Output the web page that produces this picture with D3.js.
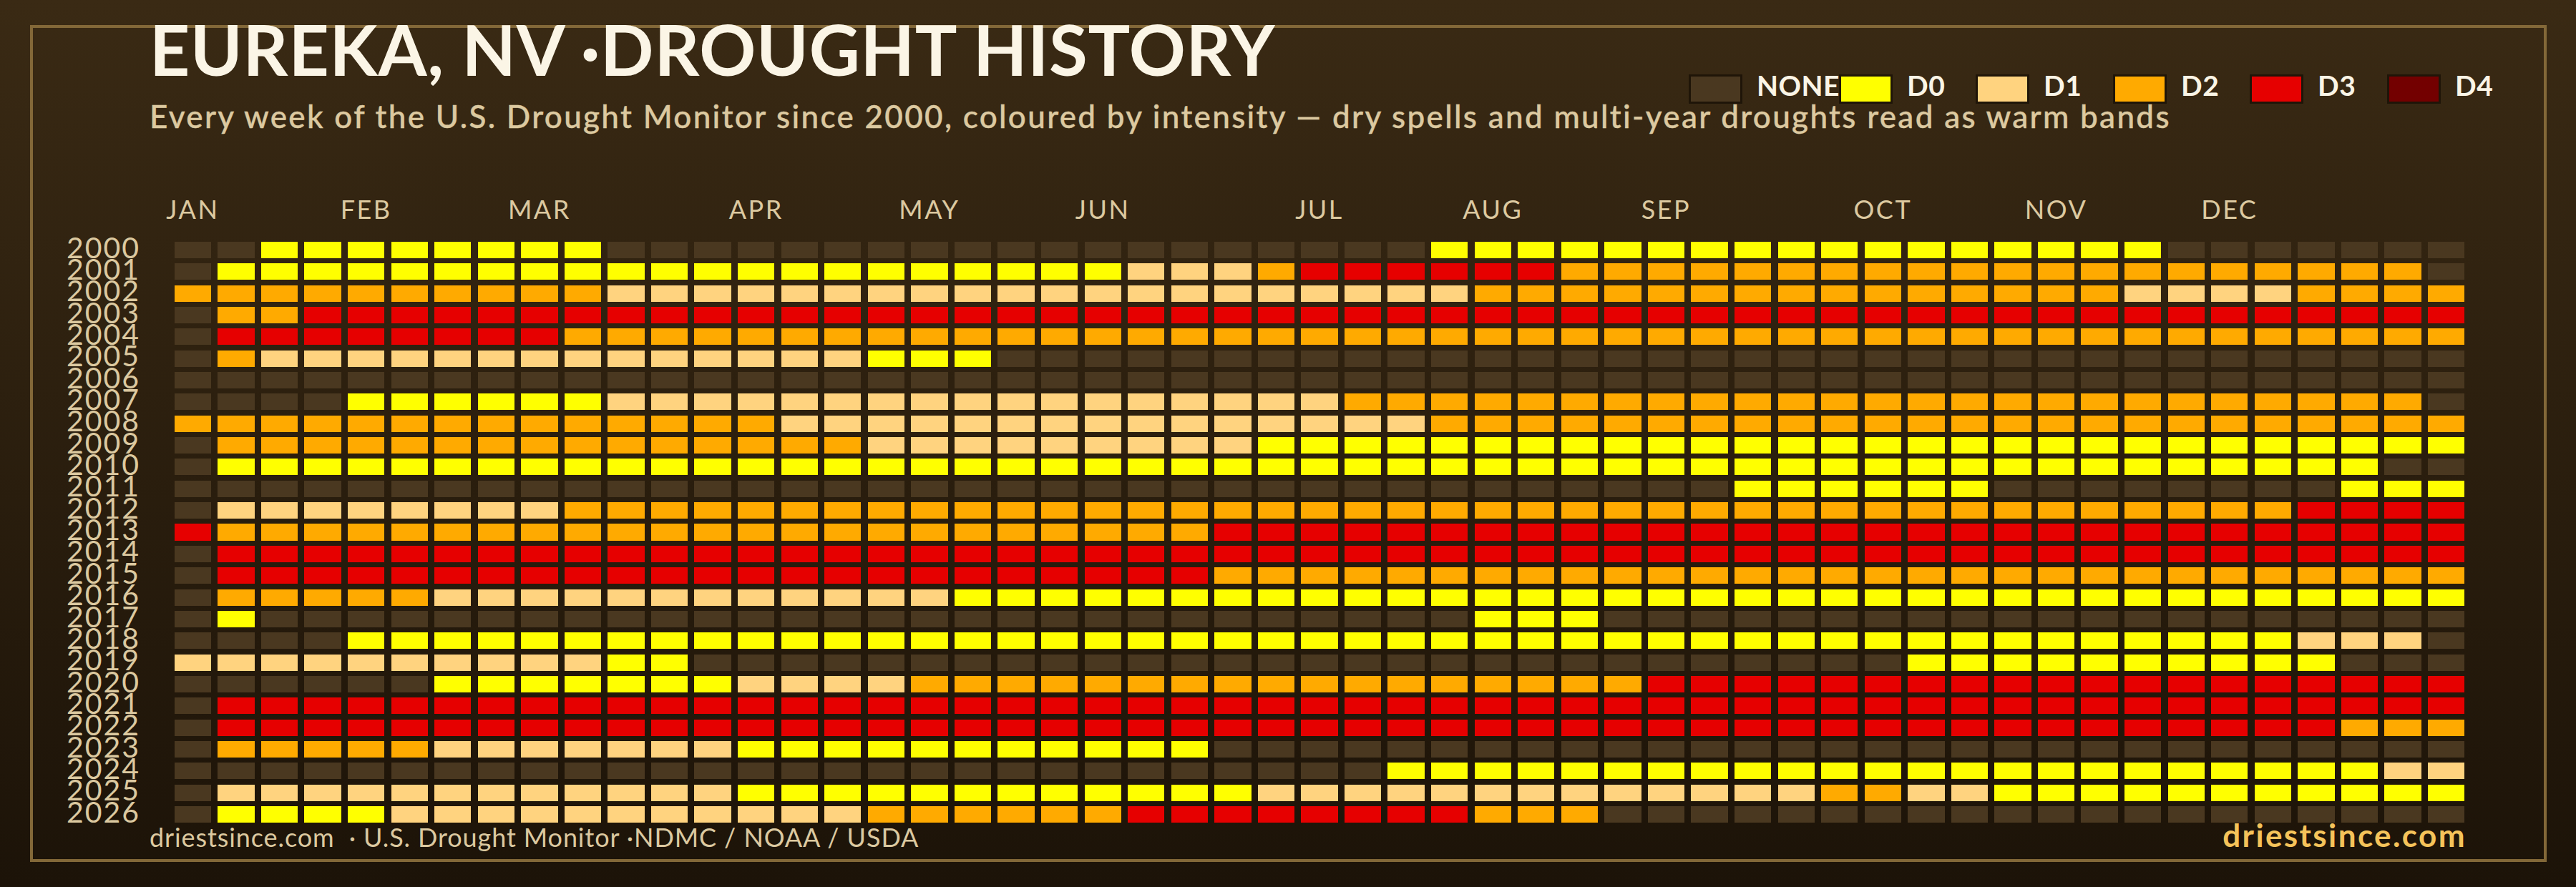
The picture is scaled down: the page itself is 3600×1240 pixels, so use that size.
<!DOCTYPE html>
<html>
<head>
<meta charset="utf-8">
<script src="https://cdn.jsdelivr.net/npm/d3@7"></script>
<style>
  html, body { margin: 0; padding: 0; background: #1c1308; }
  svg { display: block; }
  text { font-family: Lato, "Open Sans", sans-serif; }
</style>
</head>
<body>
<div id="chart"></div>
<script>
const years = d3.range(2000, 2027);
const months = ["JAN", "FEB", "MAR", "APR", "MAY", "JUN", "JUL", "AUG", "SEP", "OCT", "NOV", "DEC"];
const monthWeeks = [0, 4, 8, 13, 17, 21, 26, 30, 34, 39, 43, 47];
const levels = ["NONE", "D0", "D1", "D2", "D3", "D4"];
const levelColors = ["#4a3820", "#ffff00", "#ffd37f", "#ffaa00", "#e60000", "#730000"];

// one line per year, runs of weeks as level*count: "." = none, 0-4 = D0-D4
const runs = [
    ".*2 0*8 .*19 0*17 .*7",
    ".*1 0*21 1*3 2*1 3*6 2*20 .*1",
    "2*10 1*20 2*15 1*4 2*4",
    ".*1 2*2 3*50",
    ".*1 3*8 2*44",
    ".*1 2*1 1*14 0*3 .*34",
    ".*53",
    ".*4 0*6 1*17 2*25 .*1",
    "2*14 1*15 2*24",
    ".*1 2*15 1*9 0*28",
    ".*1 0*50 .*2",
    ".*36 0*6 .*8 0*3",
    ".*1 1*8 2*40 3*4",
    "3*1 2*23 3*29",
    ".*1 3*52",
    ".*1 3*23 2*29",
    ".*1 2*5 1*12 0*35",
    ".*1 0*1 .*28 0*3 .*20",
    ".*4 0*45 1*3 .*1",
    "1*10 0*2 .*28 0*10 .*3",
    ".*6 0*7 1*4 2*17 3*19",
    ".*1 3*52",
    ".*1 3*49 2*3",
    ".*1 2*5 1*7 0*11 .*29",
    ".*28 0*23 1*2",
    ".*1 1*12 0*12 1*13 2*2 1*2 0*11",
    ".*1 0*4 1*11 2*6 3*8 2*3 .*20"
];

const width = 3600, height = 1240;

const svg = d3.select("#chart").append("svg")
    .attr("width", width)
    .attr("height", height);

const grad = svg.append("defs").append("linearGradient")
    .attr("id", "bg")
    .attr("x1", 0).attr("y1", 0).attr("x2", 0).attr("y2", 1);
grad.append("stop").attr("offset", "0%").attr("stop-color", "#3a2a14");
grad.append("stop").attr("offset", "100%").attr("stop-color", "#1c1308");

svg.append("rect").attr("width", width).attr("height", height).attr("fill", "url(#bg)");
svg.append("rect")
    .attr("x", 44).attr("y", 37)
    .attr("width", 3513).attr("height", 1166)
    .attr("fill", "none")
    .attr("stroke", "#836838")
    .attr("stroke-width", 4);

const x = d3.scaleBand()
    .domain(d3.range(53))
    .range([243.7, 3444.3])
    .paddingInner(0.153);

const y = d3.scaleBand()
    .domain(years)
    .range([338, 1150])
    .paddingInner(0.242);

const color = d3.scaleOrdinal().domain(levels).range(levelColors);

const cells = years.flatMap((year, r) => {
    const row = [];
    runs[r].split(" ").forEach(run => {
        const [c, n] = run.split("*");
        for (let k = 0; k < +n; k++) {
            row.push({ year, week: row.length, level: c === "." ? "NONE" : "D" + c });
        }
    });
    return row;
});

svg.append("g").selectAll("rect")
    .data(cells)
    .enter()
    .append("rect")
    .attr("x", d => x(d.week))
    .attr("y", d => y(d.year))
    .attr("width", x.bandwidth())
    .attr("height", y.bandwidth())
    .attr("shape-rendering", "crispEdges")
    .attr("fill", d => color(d.level));

// axes
const monthAxis = svg.append("g")
    .attr("transform", "translate(0,306)")
    .call(d3.axisTop(x).tickValues(monthWeeks).tickFormat((_, i) => months[i]).tickSize(0).tickPadding(0));
monthAxis.select(".domain").remove();
monthAxis.selectAll("text")
    .attr("font-size", 36)
    .attr("font-family", "Lato")
    .attr("letter-spacing", 2.5)
    .attr("dy", 0)
    .attr("fill", "#dcc9a0");

const yearAxis = svg.append("g")
    .attr("transform", "translate(196,-2)")
    .call(d3.axisLeft(y).tickFormat(d3.format("d")).tickSize(0).tickPadding(0));
yearAxis.select(".domain").remove();
yearAxis.selectAll("text")
    .attr("font-size", 41)
    .attr("font-family", "Lato")
    .attr("letter-spacing", 2)
    .attr("fill", "#dcc9a0");

// titles
svg.append("text")
    .attr("x", 209).attr("y", 106)
    .attr("font-size", 98)
    .attr("font-weight", 700)
    .attr("letter-spacing", 0.75)
    .attr("fill", "#fbf5e6")
    .text("EUREKA, NV ·DROUGHT HISTORY");

svg.append("text")
    .attr("x", 209).attr("y", 179)
    .attr("font-size", 44)
    .attr("font-weight", 500)
    .attr("letter-spacing", 2.32)
    .attr("fill", "#dcc9a0")
    .attr("stroke", "#dcc9a0")
    .attr("stroke-width", 0.4)
    .text("Every week of the U.S. Drought Monitor since 2000, coloured by intensity — dry spells and multi-year droughts read as warm bands");

// legend
const legendX = [2360, 2570, 2761, 2953, 3144, 3336];
const legendLabelX = [2455, 2665, 2856, 3048, 3239, 3431];

const legend = svg.append("g").selectAll("g")
    .data(levels)
    .enter()
    .append("g");
legend.append("rect")
    .attr("x", (_, i) => legendX[i] + 1.5)
    .attr("y", 105.5)
    .attr("width", 72)
    .attr("height", 38)
    .attr("fill", d => color(d))
    .attr("stroke", "#1f1508")
    .attr("stroke-width", 3);
legend.append("text")
    .attr("x", (_, i) => legendLabelX[i])
    .attr("y", 134)
    .attr("font-size", 39)
    .attr("font-weight", 700)
    .attr("letter-spacing", 0.5)
    .attr("fill", "#fbf5e6")
    .text(d => d);

// footer
svg.append("text")
    .attr("x", 209).attr("y", 1184)
    .attr("font-size", 36)
    .attr("letter-spacing", 0.9)
    .attr("fill", "#dcc9a0")
    .style("white-space", "pre")
    .text("driestsince.com  · U.S. Drought Monitor ·NDMC / NOAA / USDA");

svg.append("text")
    .attr("x", 3447).attr("y", 1184)
    .attr("text-anchor", "end")
    .attr("font-size", 44)
    .attr("font-weight", 700)
    .attr("letter-spacing", 2.4)
    .attr("fill", "#f5c35a")
    .text("driestsince.com");
</script>
</body>
</html>
